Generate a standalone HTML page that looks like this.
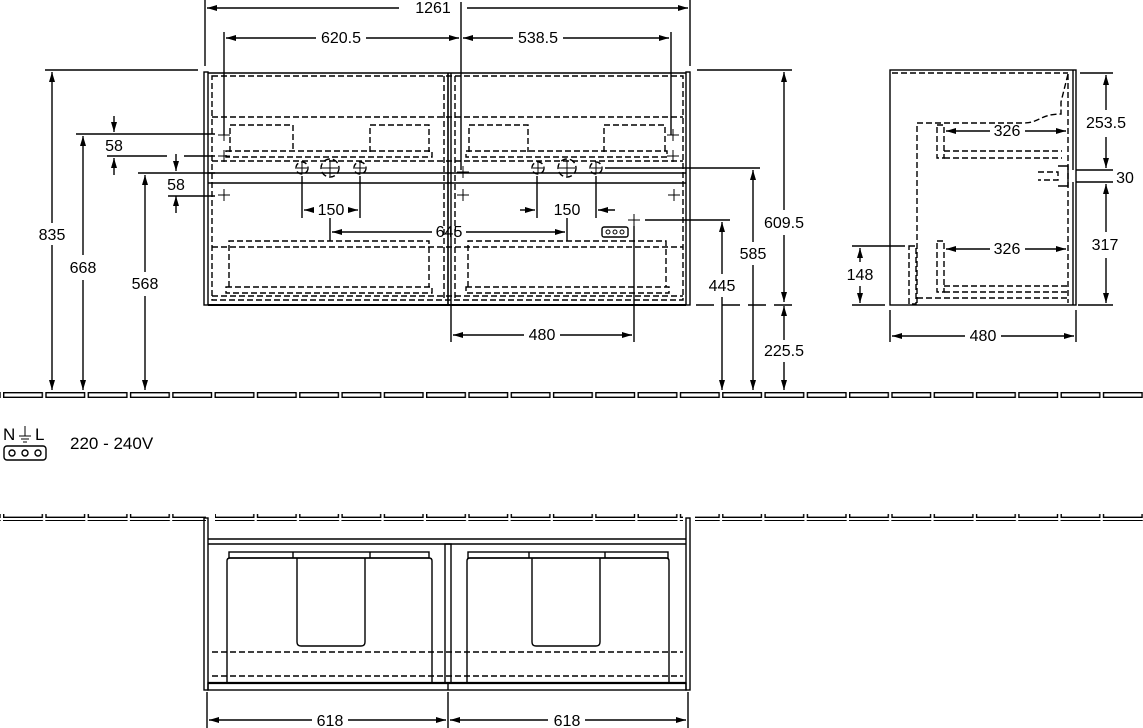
<!DOCTYPE html>
<html><head><meta charset="utf-8"><style>
html,body{margin:0;padding:0;background:#fff;}
svg{display:block;font-family:"Liberation Sans",sans-serif;}
text{font-size:16px;fill:#000;}
</style></head><body>
<svg width="1143" height="728" viewBox="0 0 1143 728" xmlns="http://www.w3.org/2000/svg">
<defs>
<pattern id="wall" x="3" y="0" width="42.3" height="8" patternUnits="userSpaceOnUse">
<rect x="0.7" y="0.7" width="38.6" height="4.6" fill="none" stroke="#000" stroke-width="1.4"/>
</pattern>
<marker id="a" viewBox="0 0 10 6" refX="10" refY="3" markerWidth="10" markerHeight="6" orient="auto-start-reverse" markerUnits="userSpaceOnUse"><path d="M0,0 L10,3 L0,6z" fill="#000"/></marker>
</defs>
<g fill="none" stroke="#000" stroke-width="1.4">
<rect x="0" y="392" width="1143" height="7" fill="url(#wall)" stroke="none"/>
<rect x="0" y="514" width="1143" height="7" fill="url(#wall)" stroke="none"/>
<rect x="206" y="513" width="9" height="8" fill="#fff" stroke="none"/>
<rect x="683" y="513" width="12" height="8" fill="#fff" stroke="none"/>

<!-- FRONT VIEW -->
<rect x="204" y="72" width="4" height="233"/>
<rect x="686" y="72" width="4" height="233"/>
<line x1="208" y1="73" x2="686" y2="73"/>
<line x1="208" y1="305" x2="686" y2="305" stroke-width="2"/>
<line x1="448" y1="73" x2="448" y2="305" stroke-width="1.6"/>
<line x1="451" y1="73" x2="451" y2="305"/>
<line x1="208" y1="173" x2="686" y2="173"/>
<line x1="208" y1="183" x2="686" y2="183"/>
<g stroke-dasharray="6,3">
<rect x="212" y="76" width="471" height="224"/>
<line x1="212" y1="117" x2="683" y2="117"/>
<line x1="212" y1="247" x2="683" y2="247"/>
<line x1="212" y1="296" x2="683" y2="296"/>
<line x1="212" y1="161" x2="683" y2="161"/>
<path d="M230,152 V125 H293 V152"/><path d="M370,152 V125 H429 V152"/>
<rect x="226" y="151" width="206" height="6"/>
<path d="M469,152 V125 H528 V152"/><path d="M604,152 V125 H665 V152"/>
<rect x="466" y="151" width="201" height="6"/>
<path d="M229,287 V241 H429 V287"/><rect x="226" y="287" width="206" height="6"/>
<path d="M468,287 V241 H666 V287"/><rect x="466" y="287" width="203" height="6"/>
<line x1="444" y1="76" x2="444" y2="300"/><line x1="455" y1="76" x2="455" y2="300"/>
<circle cx="302" cy="168" r="6"/><circle cx="330" cy="168" r="9"/><circle cx="360" cy="168" r="6"/>
<circle cx="538" cy="168" r="6"/><circle cx="567" cy="168" r="9"/><circle cx="596" cy="168" r="6"/>
</g>
<g stroke-width="1">
<path d="M297,168h10M302,163v10M322,168h16M330,160v16M355,168h10M360,163v10"/>
<path d="M533,168h10M538,163v10M559,168h16M567,160v16M591,168h10M596,163v10"/>
<path d="M218,135h12M224,129v12M218,156h12M224,150v12M218,195h12M224,189v12"/>
<path d="M667,135h12M673,129v12M667,156h12M673,150v12M668,195h12M674,189v12M457,195h12M463,189v12M457,172h12M463,166v12M628,220h12M634,214v12"/>
</g>
<rect x="602" y="227" width="26" height="10" rx="2"/>
<circle cx="608" cy="232" r="2" stroke-width="1"/><circle cx="615" cy="232" r="2" stroke-width="1"/><circle cx="622" cy="232" r="2" stroke-width="1"/>

<line x1="205" y1="0" x2="205" y2="66"/><line x1="690" y1="0" x2="690" y2="66"/>
<line x1="207" y1="8" x2="399" y2="8" marker-start="url(#a)"/><line x1="467" y1="8" x2="688" y2="8" marker-end="url(#a)"/>
<line x1="224" y1="32" x2="224" y2="135"/><line x1="461" y1="2" x2="461" y2="170"/><line x1="671" y1="32" x2="671" y2="135"/>
<line x1="226" y1="38" x2="316" y2="38" marker-start="url(#a)"/><line x1="366" y1="38" x2="459" y2="38" marker-end="url(#a)"/>
<line x1="463" y1="38" x2="513" y2="38" marker-start="url(#a)"/><line x1="563" y1="38" x2="669" y2="38" marker-end="url(#a)"/>

<line x1="45" y1="70" x2="198" y2="70"/>
<line x1="52" y1="72" x2="52" y2="223" marker-start="url(#a)"/><line x1="52" y1="245" x2="52" y2="390" marker-end="url(#a)"/>
<line x1="76" y1="134" x2="215" y2="134"/>
<line x1="83" y1="136" x2="83" y2="255" marker-start="url(#a)"/><line x1="83" y1="280" x2="83" y2="390" marker-end="url(#a)"/>
<line x1="114" y1="116" x2="114" y2="132" marker-end="url(#a)"/><line x1="114" y1="175" x2="114" y2="158" marker-end="url(#a)"/>
<line x1="107" y1="156" x2="167" y2="156"/><line x1="184" y1="156" x2="215" y2="156"/>
<line x1="138" y1="173" x2="215" y2="173"/>
<line x1="145" y1="175" x2="145" y2="272" marker-start="url(#a)"/><line x1="145" y1="296" x2="145" y2="390" marker-end="url(#a)"/>
<line x1="176" y1="154" x2="176" y2="171" marker-end="url(#a)"/><line x1="176" y1="213" x2="176" y2="196" marker-end="url(#a)"/>
<line x1="168" y1="196" x2="215" y2="196"/>

<line x1="697" y1="70" x2="792" y2="70"/>
<line x1="784" y1="72" x2="784" y2="210" marker-start="url(#a)"/><line x1="784" y1="235" x2="784" y2="302" marker-end="url(#a)"/>
<line x1="784" y1="306" x2="784" y2="340" marker-start="url(#a)"/><line x1="784" y1="362" x2="784" y2="390" marker-end="url(#a)"/>
<line x1="696" y1="305" x2="792" y2="305" stroke-dasharray="18,8"/>
<line x1="605" y1="168" x2="760" y2="168"/>
<line x1="753" y1="170" x2="753" y2="242" marker-start="url(#a)"/><line x1="753" y1="265" x2="753" y2="390" marker-end="url(#a)"/>
<line x1="645" y1="220" x2="730" y2="220"/>
<line x1="722" y1="222" x2="722" y2="274" marker-start="url(#a)"/><line x1="722" y1="297" x2="722" y2="390" marker-end="url(#a)"/>

<line x1="302" y1="176" x2="302" y2="218"/><line x1="360" y1="176" x2="360" y2="218"/>
<line x1="304" y1="210" x2="314" y2="210" marker-start="url(#a)"/><line x1="348" y1="210" x2="358" y2="210" marker-end="url(#a)"/>
<line x1="537" y1="176" x2="537" y2="218"/><line x1="596" y1="176" x2="596" y2="218"/>
<line x1="520" y1="210" x2="535" y2="210" marker-end="url(#a)"/><line x1="615" y1="210" x2="598" y2="210" marker-end="url(#a)"/>
<line x1="330" y1="218" x2="330" y2="241"/><line x1="567" y1="218" x2="567" y2="241"/>
<line x1="332" y1="232" x2="432" y2="232" marker-start="url(#a)"/><line x1="466" y1="232" x2="565" y2="232" marker-end="url(#a)"/>
<line x1="451" y1="305" x2="451" y2="342"/><line x1="634" y1="226" x2="634" y2="342"/>
<line x1="453" y1="335" x2="524" y2="335" marker-start="url(#a)"/><line x1="560" y1="335" x2="632" y2="335" marker-end="url(#a)"/>

<!-- SIDE VIEW -->
<rect x="890" y="70" width="186" height="235"/>
<line x1="1073" y1="70" x2="1073" y2="170"/><line x1="1073" y1="182" x2="1073" y2="305"/>
<g stroke-dasharray="6,3">
<line x1="892" y1="73" x2="1068" y2="73"/>
<path d="M917,303 V123 H1023 C1040,123 1040,114 1061,114 V102 L1068,74"/>
<path d="M1068,74 V303"/>
<rect x="937" y="125" width="7" height="33"/>
<path d="M944,151 H1062 M944,158 H1062"/>
<rect x="937" y="241" width="7" height="51"/>
<path d="M944,286 H1068 M944,292 H1068 M917,298 H1068"/>
<rect x="909" y="246" width="7" height="58"/>
<path d="M1038,172 H1058 V180 H1038"/>
</g>
<path d="M1058,166 H1068 V186 H1058"/>
<line x1="1080" y1="73" x2="1113" y2="73"/><line x1="1076" y1="170" x2="1113" y2="170"/><line x1="1076" y1="182" x2="1113" y2="182"/>
<line x1="1106" y1="75" x2="1106" y2="110" marker-start="url(#a)"/><line x1="1106" y1="137" x2="1106" y2="168" marker-end="url(#a)"/>
<line x1="1106" y1="184" x2="1106" y2="232" marker-start="url(#a)"/><line x1="1106" y1="258" x2="1106" y2="303" marker-end="url(#a)"/>
<line x1="1078" y1="305" x2="1113" y2="305"/>
<line x1="852" y1="246" x2="905" y2="246"/><line x1="852" y1="305" x2="885" y2="305"/>
<line x1="860" y1="248" x2="860" y2="262" marker-start="url(#a)"/><line x1="860" y1="286" x2="860" y2="303" marker-end="url(#a)"/>
<line x1="890" y1="310" x2="890" y2="342"/><line x1="1076" y1="310" x2="1076" y2="342"/>
<line x1="892" y1="336" x2="965" y2="336" marker-start="url(#a)"/><line x1="1001" y1="336" x2="1074" y2="336" marker-end="url(#a)"/>
<line x1="946" y1="131" x2="990" y2="131" marker-start="url(#a)"/><line x1="1025" y1="131" x2="1066" y2="131" marker-end="url(#a)"/>
<line x1="946" y1="249" x2="990" y2="249" marker-start="url(#a)"/><line x1="1025" y1="249" x2="1066" y2="249" marker-end="url(#a)"/>

<rect x="4" y="446" width="42" height="14" rx="3"/>
<circle cx="12" cy="453" r="3"/><circle cx="25" cy="453" r="3"/><circle cx="38" cy="453" r="3"/>
<path d="M25,426 V436 M19,436 H31 M21,439 H29 M23,442 H27" stroke-width="1"/>

<!-- BOTTOM VIEW -->
<rect x="204" y="518" width="4" height="172"/><rect x="686" y="518" width="4" height="172"/>
<line x1="208" y1="539" x2="686" y2="539"/><line x1="208" y1="544" x2="686" y2="544"/>
<rect x="208" y="683" width="478" height="7"/>
<line x1="208" y1="683" x2="686" y2="683" stroke-width="2.2"/>
<line x1="448" y1="683" x2="448" y2="690"/>
<rect x="445" y="544" width="6" height="139"/>
<rect x="229" y="552" width="200" height="6"/><line x1="293" y1="552" x2="293" y2="558"/><line x1="370" y1="552" x2="370" y2="558"/>
<path d="M227,683 V561 Q227,558 230,558 H429 Q432,558 432,561 V683"/>
<path d="M297,558 V642 Q297,646 301,646 H361 Q365,646 365,642 V558"/>
<rect x="468" y="552" width="200" height="6"/><line x1="529" y1="552" x2="529" y2="558"/><line x1="605" y1="552" x2="605" y2="558"/>
<path d="M467,683 V561 Q467,558 470,558 H666 Q669,558 669,561 V683"/>
<path d="M532,558 V642 Q532,646 536,646 H596 Q600,646 600,642 V558"/>
<g stroke-dasharray="6,3"><line x1="212" y1="652" x2="683" y2="652"/><line x1="212" y1="676" x2="683" y2="676"/></g>
<line x1="207" y1="692" x2="207" y2="728"/><line x1="448" y1="692" x2="448" y2="728"/><line x1="688" y1="692" x2="688" y2="728"/>
<line x1="209" y1="720" x2="312" y2="720" marker-start="url(#a)"/><line x1="348" y1="720" x2="446" y2="720" marker-end="url(#a)"/>
<line x1="450" y1="720" x2="548" y2="720" marker-start="url(#a)"/><line x1="585" y1="720" x2="686" y2="720" marker-end="url(#a)"/>
</g>

<g text-anchor="middle">
<text x="433" y="13">1261</text>
<text x="341" y="43">620.5</text>
<text x="538" y="43">538.5</text>
<text x="52" y="240">835</text>
<text x="83" y="273">668</text>
<text x="114" y="151">58</text>
<text x="145" y="289">568</text>
<text x="176" y="190">58</text>
<text x="784" y="228">609.5</text>
<text x="784" y="356">225.5</text>
<text x="753" y="259">585</text>
<text x="722" y="291">445</text>
<text x="331" y="215">150</text>
<text x="567" y="215">150</text>
<text x="449" y="237">645</text>
<text x="542" y="340">480</text>
<text x="1007" y="136">326</text>
<text x="1007" y="254">326</text>
<text x="1106" y="128">253.5</text>
<text x="1125" y="183">30</text>
<text x="1105" y="250">317</text>
<text x="860" y="280">148</text>
<text x="983" y="341">480</text>
<text x="330" y="726">618</text>
<text x="567" y="726">618</text>
</g>
<text x="3" y="440" style="font-size:17px">N</text>
<text x="35" y="440" style="font-size:17px">L</text>
<text x="70" y="449" style="font-size:17px">220 - 240V</text>
</svg>
</body></html>
